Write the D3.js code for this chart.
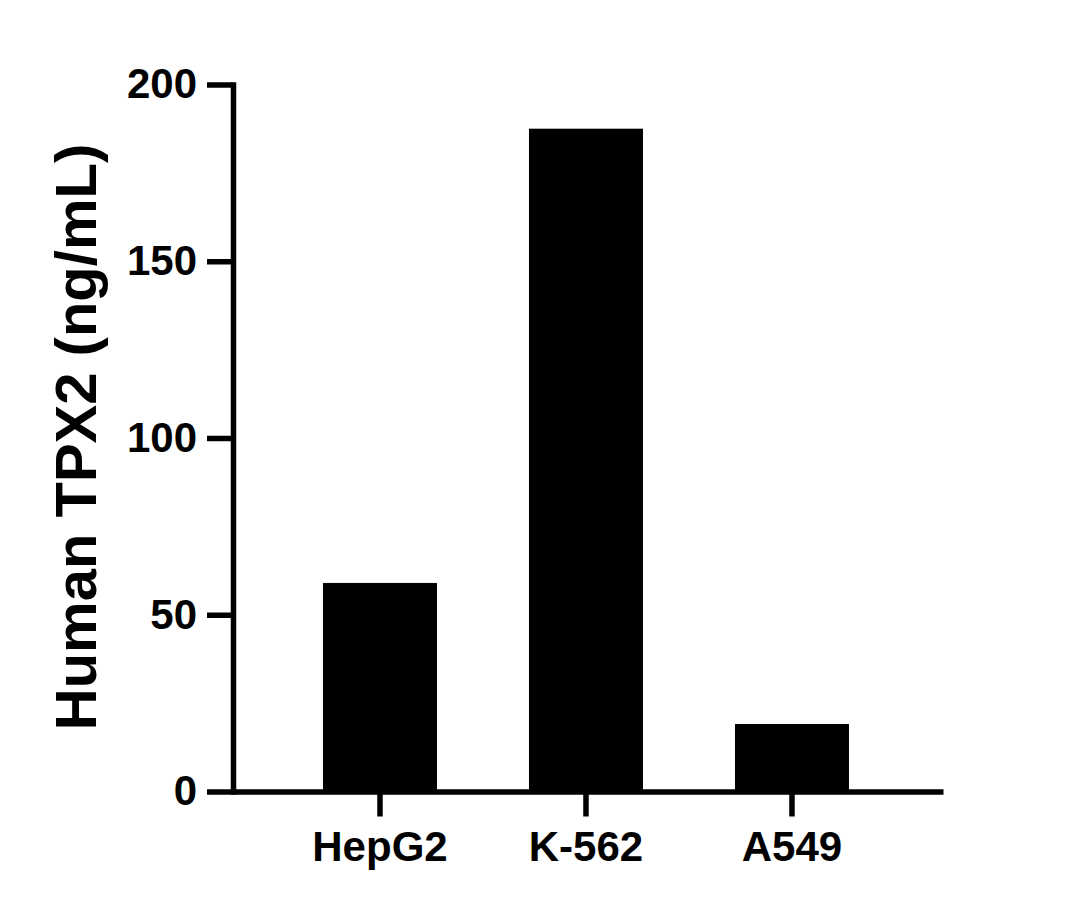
<!DOCTYPE html>
<html>
<head>
<meta charset="utf-8">
<script src="https://cdn.jsdelivr.net/npm/d3@7"></script>
<style>
  html, body { margin: 0; padding: 0; background: #fff; }
  svg { display: block; }
</style>
</head>
<body>
<svg id="chart" width="1074" height="909"></svg>
<script>
const categories = ["HepG2", "K-562", "A549"];
const values = [59.0, 187.5, 19.1];
const yTicks = [0, 50, 100, 150, 200];
const yTitle = "Human TPX2 (ng/mL)";

const svg = d3.select("#chart");
const font = "'Liberation Sans', Arial, Helvetica, sans-serif";
const stroke = 5.5;

const x = d3.scaleBand()
  .domain(categories)
  .range([233, 943])
  .paddingInner(0.4466)
  .paddingOuter(0.4466)
  .align(0.489);

const y = d3.scaleLinear()
  .domain([0, 200])
  .range([791.5, 84.5]);

// Bars
svg.append("g")
  .selectAll("rect")
  .data(categories.map((c, i) => ({ c, v: values[i] })))
  .join("rect")
  .attr("x", d => x(d.c))
  .attr("width", x.bandwidth())
  .attr("y", d => y(d.v))
  .attr("height", d => y(0) - y(d.v))
  .attr("fill", "#000");

// Y axis
const gy = svg.append("g")
  .attr("transform", "translate(233,0)")
  .call(d3.axisLeft(y).tickValues(yTicks).tickSize(26).tickSizeOuter(0).tickPadding(10));
gy.select(".domain").attr("stroke", "#000").attr("stroke-width", stroke).attr("stroke-linecap", "square");
gy.selectAll(".tick line").attr("stroke", "#000").attr("stroke-width", stroke);
gy.selectAll(".tick text")
  .attr("fill", "#000")
  .style("font-family", font)
  .style("font-weight", "bold")
  .style("font-size", "42px");

// X axis
const gx = svg.append("g")
  .attr("transform", "translate(0,791.5)")
  .call(d3.axisBottom(x).tickSize(25).tickSizeOuter(0).tickPadding(15));
gx.select(".domain").attr("stroke", "#000").attr("stroke-width", stroke);
gx.selectAll(".tick line").attr("stroke", "#000").attr("stroke-width", stroke);
gx.selectAll(".tick text")
  .attr("fill", "#000")
  .style("font-family", font)
  .style("font-weight", "bold")
  .style("font-size", "42px");

// Y title
svg.append("text")
  .attr("transform", "translate(96,437) rotate(-90)")
  .attr("text-anchor", "middle")
  .style("font-family", font)
  .style("font-weight", "bold")
  .style("font-size", "58px")
  .attr("fill", "#000")
  .text(yTitle);
</script>
</body>
</html>
